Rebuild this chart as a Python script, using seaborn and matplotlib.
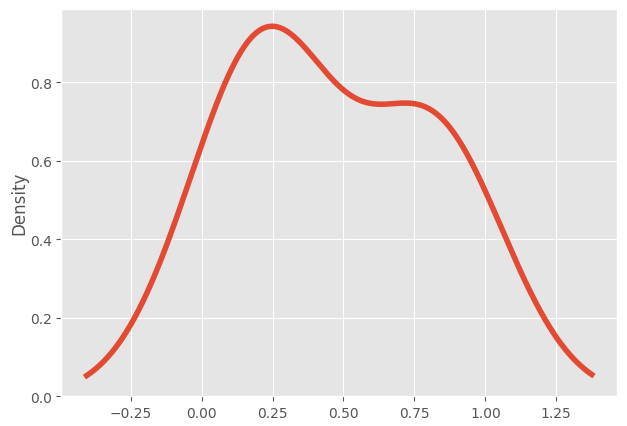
import numpy as np
import pandas as pd
import seaborn as sns
import matplotlib
matplotlib.use("Agg")
import matplotlib.pyplot as plt

# sample values (estimated from the density shape)
values = [0.04, 0.21, 0.26, 0.31, 0.7, 0.81, 0.93]
xticks = [-0.25, 0.0, 0.25, 0.5, 0.75, 1.0, 1.25]
yticks = [0.0, 0.2, 0.4, 0.6, 0.8]

plt.style.use("ggplot")
fig = plt.figure(figsize=(6.27, 4.27), dpi=100)
ax = fig.add_axes([0.098, 0.07, 0.886, 0.907])
lo, hi = min(values), max(values)
rng = hi - lo
sns.kdeplot(x=values, bw_method="scott", cut=10, gridsize=1000,
            clip=(lo - 0.5 * rng, hi + 0.5 * rng),
            color="#E24A33", linewidth=4, ax=ax)
ax.set_xticks(xticks)
ax.set_xticklabels([f"{t:.2f}".replace("-", "\u2212") for t in xticks])
ax.set_yticks(yticks)
ax.set_yticklabels([f"{t:.1f}" for t in yticks])
ax.set_ylabel("Density", fontsize=12, color="#555555", labelpad=1)
ax.set_xlabel("")
ax.margins(x=0.05, y=0.05)
ax.set_ylim(bottom=0)
fig.savefig("out.png", dpi=100)
